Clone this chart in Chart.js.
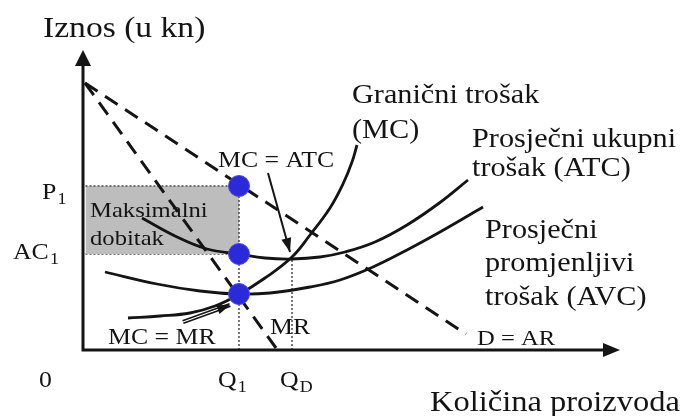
<!DOCTYPE html>
<html>
<head>
<meta charset="utf-8">
<script src="https://cdn.jsdelivr.net/npm/chart.js@4"></script>
<style>
  html, body { margin: 0; padding: 0; background: #ffffff; }
  canvas { display: block; }
</style>
</head>
<body>
<canvas id="c" width="699" height="416"></canvas>
<script>
// ---- data (quantity units / amount units) ----
const mcX  = [9, 15.4, 21.4, 26.4, 31, 36.4, 41.8, 45.4, 49.4, 52, 53.8, 54.8];
const mcY  = [6.4, 6.8, 7.4, 8.8, 11, 14.4, 18.6, 23.0, 28.4, 33.2, 37.6, 41];
const atcX = [11.8, 18.4, 24.8, 31.2, 36.4, 41.8, 47.4, 52.4, 58.4, 64.8, 71.4, 77];
const atcY = [26.4, 22.8, 20.2, 19.2, 18.4, 18.2, 18.6, 19.6, 21.6, 25.0, 29.5, 34];
const avcX = [4.4, 14.8, 23.4, 31, 37.4, 45.4, 51.4, 58, 64.8, 71.4, 80];
const avcY = [15.6, 13.2, 11.8, 11.2, 11.4, 12.6, 14, 16.6, 20, 23.6, 28.6];
const demandX = [0.4, 76.6];
const demandY = [53.4, 3.2];
const mrX = [0.4, 38.6];
const mrY = [53.4, 0.4];
const Q1 = 31.2, QD = 41.8, P1 = 32.8, AC1 = 19.2, MC_MR = 11.2, ATC_MIN = 18.2;
const arrowAtcX = [37, 41.4], arrowAtcY = [35.4, 19.6];
const arrowMrX = [20, 29.4], arrowMrY = [5.6, 9];
const tickLabelsX = [{t:'Q', s:'1', v:Q1}, {t:'Q', s:'D', v:QD}];
const tickLabelsY = [{t:'P', s:'1', v:P1}, {t:'AC', s:'1', v:AC1}];

const pts = (xs, ys) => xs.map((x, i) => ({x, y: ys[i]}));

const INK = '#141414';
const FONT = '"Liberation Serif", "Times New Roman", serif';
const STRETCH = 1.12;

function drawText(ctx, text, x, y, size, sub) {
  ctx.save();
  ctx.fillStyle = INK;
  ctx.textBaseline = 'alphabetic';
  ctx.textAlign = 'left';
  ctx.translate(x, y);
  ctx.scale(STRETCH, 1);
  ctx.font = size + 'px ' + FONT;
  ctx.fillText(text, 0, 0);
  if (sub) {
    const w = ctx.measureText(text).width;
    ctx.font = Math.round(size * 0.68) + 'px ' + FONT;
    ctx.fillText(sub, w + 1, 5);
  }
  ctx.restore();
}

function arrowHead(ctx, x0, y0, x1, y1, len, half) {
  const a = Math.atan2(y1 - y0, x1 - x0);
  ctx.save();
  ctx.fillStyle = INK;
  ctx.beginPath();
  ctx.moveTo(x1, y1);
  ctx.lineTo(x1 - len * Math.cos(a) + half * Math.sin(a), y1 - len * Math.sin(a) - half * Math.cos(a));
  ctx.lineTo(x1 - len * Math.cos(a) - half * Math.sin(a), y1 - len * Math.sin(a) + half * Math.cos(a));
  ctx.closePath();
  ctx.fill();
  ctx.restore();
}

const decor = {
  id: 'decor',
  afterDatasetsDraw(chart) {
    const ctx = chart.ctx;
    const xs = chart.scales.x, ys = chart.scales.y;
    const X = v => xs.getPixelForValue(v), Y = v => ys.getPixelForValue(v);
    ctx.save();
    ctx.strokeStyle = INK;
    ctx.lineWidth = 3;
    ctx.beginPath();
    ctx.moveTo(X(0), Y(0));
    ctx.lineTo(X(0), Y(57.5));
    ctx.moveTo(X(0) - 1.5, Y(0));
    ctx.lineTo(X(104.5), Y(0));
    ctx.stroke();
    ctx.restore();
    arrowHead(ctx, X(0), Y(0), X(0), Y(60), 16, 8);
    arrowHead(ctx, X(0), Y(0), X(107.4), Y(0), 17, 7);
    arrowHead(ctx, X(arrowAtcX[0]), Y(arrowAtcY[0]), X(arrowAtcX[1]), Y(arrowAtcY[1]), 14, 5);
    arrowHead(ctx, X(arrowMrX[0]), Y(arrowMrY[0]), X(arrowMrX[1]), Y(arrowMrY[1]), 13, 5);
  },
  afterDraw(chart) {
    const ctx = chart.ctx;
    const xs = chart.scales.x, ys = chart.scales.y;
    const X = v => xs.getPixelForValue(v), Y = v => ys.getPixelForValue(v);
    drawText(ctx, 'Iznos (u kn)', 43, 37, 30);
    drawText(ctx, 'Količina proizvoda', 430, 411, 29);
    drawText(ctx, 'Granični trošak', 352, 103, 27);
    drawText(ctx, '(MC)', 352, 138, 27);
    drawText(ctx, 'Prosječni ukupni', 472, 147, 27);
    drawText(ctx, 'trošak (ATC)', 472, 176, 27);
    drawText(ctx, 'Prosječni', 485, 238, 27);
    drawText(ctx, 'promjenljivi', 485, 271, 27);
    drawText(ctx, 'trošak (AVC)', 485, 305, 27);
    drawText(ctx, 'MC = ATC', 218, 167, 23);
    drawText(ctx, 'Maksimalni', 90, 217, 22);
    drawText(ctx, 'dobitak', 90, 245, 22);
    drawText(ctx, 'MC = MR', 108, 344, 23);
    drawText(ctx, 'MR', 270, 334, 23);
    drawText(ctx, 'D = AR', 477, 345, 22);
    drawText(ctx, '0', 39, 387, 23);
    drawText(ctx, tickLabelsX[0].t, X(tickLabelsX[0].v) - 21, 387, 23, tickLabelsX[0].s);
    drawText(ctx, tickLabelsX[1].t, X(tickLabelsX[1].v) - 12, 387, 23, tickLabelsX[1].s);
    drawText(ctx, tickLabelsY[0].t, 42, Y(tickLabelsY[0].v) + 13, 23, tickLabelsY[0].s);
    drawText(ctx, tickLabelsY[1].t, 13, Y(tickLabelsY[1].v) + 5, 23, tickLabelsY[1].s);
  }
};

const curve = (data, order) => ({
  data, borderColor: INK, borderWidth: 2.8, pointRadius: 0,
  tension: 0.4, fill: false, order
});
const dashed = (data) => ({
  data, borderColor: INK, borderWidth: 3, borderDash: [15, 9], pointRadius: 0,
  tension: 0, fill: false, order: 6
});
const dotted = (data, extra) => Object.assign({
  data, borderColor: '#555555', borderWidth: 1.6, borderDash: [2, 2], pointRadius: 0,
  tension: 0, fill: false, order: 8
}, extra || {});

new Chart(document.getElementById('c'), {
  type: 'line',
  data: {
    datasets: [
      dotted([{x: 0.5, y: P1}, {x: Q1, y: P1}], {fill: '+1', backgroundColor: '#bdbdbd', order: 9}),
      dotted([{x: 0.5, y: AC1}, {x: Q1, y: AC1}], {order: 9}),
      dotted([{x: Q1, y: 0}, {x: Q1, y: P1}]),
      dotted([{x: QD, y: 0}, {x: QD, y: ATC_MIN}]),
      dashed(pts(demandX, demandY)),
      dashed(pts(mrX, mrY)),
      curve(pts(mcX, mcY), 4),
      curve(pts(atcX, atcY), 4),
      curve(pts(avcX, avcY), 4),
      {data: pts(arrowAtcX, arrowAtcY), borderColor: INK, borderWidth: 2, pointRadius: 0, tension: 0, order: 3},
      {data: pts(arrowMrX, arrowMrY), borderColor: '#ffffff', borderWidth: 1.2, pointRadius: 0, tension: 0, order: 2},
      {data: pts(arrowMrX, arrowMrY), borderColor: INK, borderWidth: 4.2, pointRadius: 0, tension: 0, order: 3},
      {data: [{x: Q1, y: P1}, {x: Q1, y: AC1}, {x: Q1, y: MC_MR}], showLine: false,
       pointRadius: 10.5, pointBackgroundColor: '#2a2ad8', pointBorderColor: '#4848ee',
       pointBorderWidth: 1, order: 1}
    ]
  },
  options: {
    responsive: false,
    animation: false,
    layout: {padding: {left: 83, right: 76, top: 50, bottom: 66}},
    scales: {
      x: {type: 'linear', min: 0, max: 108, display: false},
      y: {type: 'linear', min: 0, max: 60, display: false}
    },
    plugins: {legend: {display: false}, tooltip: {enabled: false}},
    clip: false
  },
  plugins: [decor]
});
</script>
</body>
</html>
